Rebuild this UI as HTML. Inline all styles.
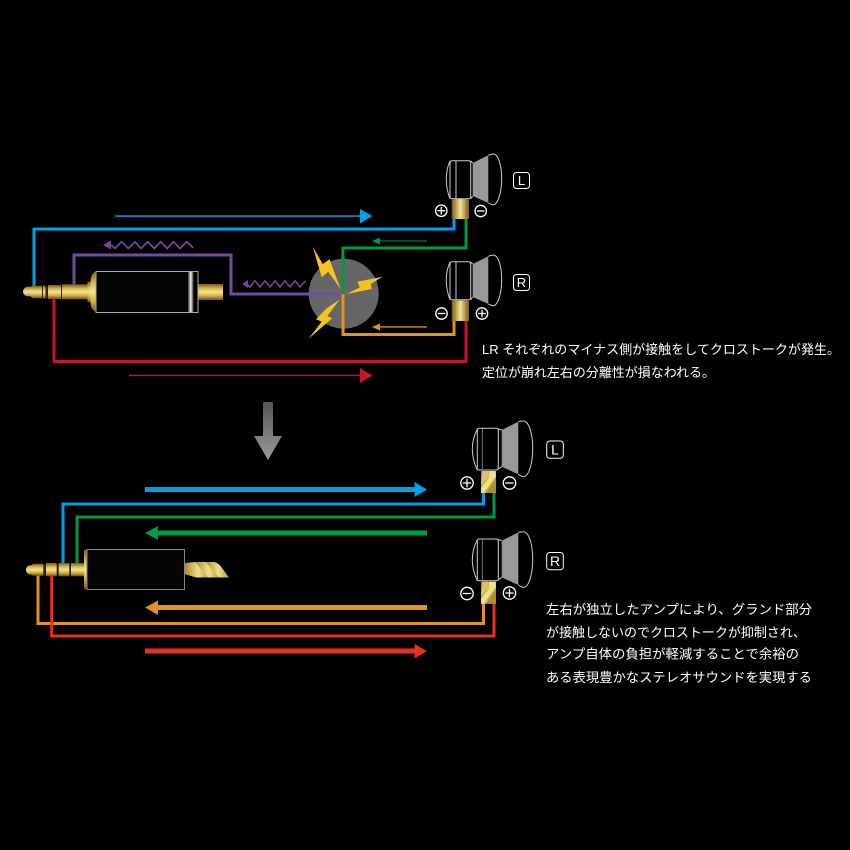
<!DOCTYPE html>
<html><head><meta charset="utf-8"><style>
html,body{margin:0;padding:0;background:#000}
svg{display:block}
text{font-family:"Liberation Sans","Noto Sans CJK JP",sans-serif;fill:#fff;font-size:13px}
</style></head><body>
<svg width="850" height="850" viewBox="0 0 850 850" xmlns="http://www.w3.org/2000/svg">
<defs>
<linearGradient id="g" x1="0" y1="0" x2="0" y2="1"><stop offset="0" stop-color="#7a5a1a"/><stop offset=".28" stop-color="#d5b84f"/><stop offset=".5" stop-color="#f3e58f"/><stop offset=".75" stop-color="#cfae44"/><stop offset="1" stop-color="#6e5016"/></linearGradient>
<linearGradient id="gh" x1="0" y1="0" x2="1" y2="0"><stop offset="0" stop-color="#7a5a18"/><stop offset=".5" stop-color="#f2e48f"/><stop offset="1" stop-color="#7a5a18"/></linearGradient>
<linearGradient id="st" x1="0" y1="0" x2="1" y2="0"><stop offset="0" stop-color="#333"/><stop offset=".5" stop-color="#eee"/><stop offset="1" stop-color="#333"/></linearGradient>
<linearGradient id="ga" x1="0" y1="0" x2="0" y2="1"><stop offset="0" stop-color="#555"/><stop offset="1" stop-color="#9a9a9a"/></linearGradient>
<linearGradient id="tw" x1="0" y1="0" x2="1" y2="0"><stop offset="0" stop-color="#a98a30"/><stop offset=".55" stop-color="#efe08a"/><stop offset="1" stop-color="#b8973a"/></linearGradient>
</defs>
<rect width="850" height="850" fill="#000"/>

<!-- bolts and circle -->
<circle cx="343.700" cy="293.700" r="35" fill="#666"/>
<g fill="#f3c41f">
<path d="M312.700 246.700L322.700 264L329.500 259.300L340.700 289.300L328.300 271.700L321.700 277.300Z"/>
<path d="M357.300 281.700L382.700 276.700L370.700 284L371.700 289L346.700 294L360 287.300Z"/>
<path d="M340 299.300L327.300 316L332.300 318.300L308.300 339L321.700 321.700L316 319.300L326.700 308.300Z"/>
</g>

<!-- TOP wires -->
<g fill="none">
<path d="M34 287V229H454V219" stroke="#00a0e9" stroke-width="3"/>
<path d="M466 219V248H343V294" stroke="#009944" stroke-width="3"/>
<path d="M74 286V255H231V294H343" stroke="#744a9e" stroke-width="3"/>
<path d="M343 294V334.500H454V321" stroke="#e09320" stroke-width="3"/>
<path d="M54 298V361.500H466V321" stroke="#c8162e" stroke-width="3"/>
<polyline points="111,245 115,248.500 121.700,241.700 128.300,248.500 135,241.700 141,248.500 147.700,241.700 154.300,248.500 160.700,241.700 167.300,248.500 173.300,241.700 180,248.500 186.700,241.700 193.300,248" stroke="#744a9e" stroke-width="1.700"/>
<polyline points="247,284 250,287 255,280.700 260,287 265,280.700 270,287 275,280.700 280,287 285,280.700 290,287 295,280.700 300,287 305.600,280.700" stroke="#744a9e" stroke-width="1.500"/>
</g>
<path d="M103 245L111 240.500V249.500Z" fill="#744a9e"/>
<path d="M242 284L248 280V288Z" fill="#744a9e"/>

<!-- top thin arrows -->
<rect x="115" y="215.300" width="246" height="1.500" fill="#00a0e9"/><path d="M360 209L372.500 216L360 223.500Z" fill="#00a0e9"/>
<rect x="129" y="374.800" width="232" height="1.400" fill="#c8162e"/><path d="M360 368L372.500 375.500L360 383Z" fill="#c8162e"/>
<rect x="379" y="240.500" width="48" height="1" fill="#009944"/><path d="M372 241L380 237.500V244.500Z" fill="#009944"/>
<rect x="379" y="326.300" width="48" height="1.300" fill="#e09320"/><path d="M372 327L380 323.500V330.500Z" fill="#e09320"/>

<!-- top jack -->
<rect x="40" y="286" width="24" height="12.500" fill="#33240a"/>
<path d="M27 286.700H30L33 285.700H42V298.300H33L30 296.300H27Q23 295 23 291.500Q23 288 27 286.700Z" fill="url(#g)"/>
<rect x="43" y="285.500" width="2.500" height="13" fill="url(#g)"/>
<rect x="48" y="285" width="13" height="14" fill="url(#g)"/>
<rect x="62" y="284.300" width="26" height="15" fill="url(#g)"/>
<rect x="87.500" y="281.700" width="3.500" height="20.600" fill="url(#g)"/>
<path d="M96 271.700V311.700Q91 311 90.500 302V281.700Q91 272.500 96 271.700Z" fill="url(#g)"/>
<rect x="198" y="284" width="25" height="16" fill="url(#g)"/>
<rect x="96" y="271.500" width="102" height="41" fill="#070504" stroke="#aaa" stroke-width="1"/>
<rect x="188" y="272" width="5.500" height="40" fill="url(#st)"/>

<!-- top earphones -->
<g fill="none" stroke="#ccc" stroke-width="1">
<path d="M472.700 163L488.300 155.300V203L472.700 196Z" fill="#999" stroke="none"/>
<path d="M488.300 155.300Q491 154 493.300 154C498 154 501.700 165 501.700 178.500C501.700 192 498 204.700 493 204.700Q490.500 204.500 488.300 203"/>
<path d="M470.700 161L472.700 163M470.700 198.700L472.700 196"/>
<path d="M452 160.700H468.700Q470.700 160.700 470.700 163V196.500Q470.700 198.700 468.700 198.700H452Q450 198.700 450 196.500V163Q450 160.700 452 160.700Z" fill="#000"/>
<path d="M456 161V198.500"/>
<path d="M450 161Q446 170 446.300 180Q446.500 190 450 198.500"/>
</g>
<rect x="451.700" y="199" width="17.300" height="20" fill="url(#gh)"/>
<g fill="none" stroke="#ccc" stroke-width="1">
<path d="M472.700 264L488.300 256.300V304L472.700 297Z" fill="#999" stroke="none"/>
<path d="M488.300 256.300Q491 255 493.300 255C498 255 501.700 266 501.700 279.500C501.700 293 498 305.700 493 305.700Q490.500 305.500 488.300 304"/>
<path d="M470.700 262L472.700 264M470.700 299.700L472.700 297"/>
<path d="M452 261.700H468.700Q470.700 261.700 470.700 264V297.500Q470.700 299.700 468.700 299.700H452Q450 299.700 450 297.500V264Q450 261.700 452 261.700Z" fill="#000"/>
<path d="M456 262V299.500"/>
<path d="M450 262Q446 271 446.300 281Q446.500 291 450 299.500"/>
</g>
<rect x="451.700" y="300.500" width="17.300" height="20.500" fill="url(#gh)"/>

<!-- signs top -->
<g fill="none" stroke="#fff" stroke-width="1.300">
<circle cx="441.300" cy="210.700" r="5.700"/><path d="M437.500 210.700H445.100M441.300 206.900V214.500"/>
<circle cx="480.700" cy="211" r="5.700"/><path d="M476.900 211H484.500"/>
<circle cx="441.500" cy="313.500" r="5.700"/><path d="M437.700 313.500H445.300"/>
<circle cx="482" cy="313.500" r="5.700"/><path d="M478.200 313.500H485.800M482 309.700V317.300"/>
<rect x="513.500" y="172.500" width="16" height="16" rx="3" stroke-width="1"/>
<rect x="513.500" y="274.500" width="16" height="16" rx="3" stroke-width="1"/>
<rect x="546.700" y="441" width="16.600" height="17.300" rx="3" stroke-width="1"/>
<rect x="546.700" y="552.500" width="16.600" height="17.300" rx="3" stroke-width="1"/>
</g>
<text x="521.500" y="185" text-anchor="middle" style="font-size:13px">L</text>
<text x="521.500" y="287" text-anchor="middle" style="font-size:13px">R</text>
<text x="555" y="454.500" text-anchor="middle" style="font-size:14px">L</text>
<text x="555" y="566" text-anchor="middle" style="font-size:14px">R</text>

<text x="482" y="354" textLength="358" lengthAdjust="spacingAndGlyphs">LR それぞれのマイナス側が接触をしてクロストークが発生。</text>
<text x="482" y="377" textLength="233" lengthAdjust="spacingAndGlyphs">定位が崩れ左右の分離性が損なわれる。</text>

<!-- gray arrow -->
<path d="M263 402H273V436H282L268 460L254 436H263Z" fill="url(#ga)"/>

<!-- bottom wires -->
<g fill="none">
<path d="M63 563V504H483.500V492" stroke="#00a0e9" stroke-width="3"/>
<path d="M77 563V517H494V492" stroke="#009944" stroke-width="3"/>
<path d="M38 575V623.500H483.500V603" stroke="#e09320" stroke-width="3"/>
<path d="M51.700 576V636H494V603" stroke="#e83020" stroke-width="3"/>
</g>
<rect x="145" y="487" width="271" height="5" fill="#00a0e9"/><path d="M414.500 482L427 489.500L414.500 497Z" fill="#00a0e9"/>
<rect x="157" y="530.500" width="270" height="5" fill="#009944"/><path d="M145 533L158 526V540Z" fill="#009944"/>
<rect x="157" y="605" width="270" height="5" fill="#e09320"/><path d="M145 607.500L158 600.500V615Z" fill="#e09320"/>
<rect x="145" y="648.500" width="271" height="5" fill="#e83020"/><path d="M414.500 644L427 651L414.500 658.500Z" fill="#e83020"/>

<!-- bottom jack -->
<rect x="43" y="564" width="30" height="11.500" fill="#2a1d08"/>
<path d="M29 565.300H31L33 563.700H43.300V575.700H33L31 574.500H29Q26 573 26 570Q26 567 29 565.300Z" fill="url(#g)"/>
<rect x="46" y="563" width="10.700" height="13.300" fill="url(#g)"/>
<rect x="58.700" y="563" width="10.600" height="13.300" fill="url(#g)"/>
<rect x="71" y="563" width="13" height="13.300" fill="url(#g)"/>
<rect x="84" y="549.700" width="3" height="39.500" fill="url(#g)"/>
<rect x="87" y="549.500" width="97.500" height="40" fill="#070504" stroke="#888" stroke-width="1"/>
<g fill="url(#tw)">
<path d="M185 563L196 562L209 577.500L197 577.500Q190 576 185 574Z"/>
<path d="M195 562L206 562L220 577.500L208 577.500Z"/>
<path d="M205.500 562H214Q219 563 222 568L229 577.500H219Z"/>
</g>

<!-- bottom earphones -->
<g fill="none" stroke="#ccc" stroke-width="1">
<path d="M501.700 430L518.300 421.700V474.300L501.700 466.700Z" fill="#999" stroke="none"/>
<path d="M518.300 421.700Q521 421 523.300 421C529 421 532.700 434 532.700 448.500C532.700 463 529 476.700 523.300 476.700Q520.500 476 518.300 474.300"/>
<path d="M498.300 429L501.700 430M498.300 469L501.700 466.700"/>
<path d="M479 428.300H496.300Q498.300 428.300 498.300 430.500V468Q498.300 470 496.300 470H479Q477.300 470 477.300 468V430.500Q477.300 428.300 479 428.300Z" fill="#000"/>
<path d="M482.300 428.500V470" stroke="#777"/>
<path d="M477.300 429Q472.200 439 472.300 449.500Q472.500 460 477.300 470"/>
</g>
<g fill="none" stroke="#ccc" stroke-width="1">
<path d="M501.700 540.700L518.300 532.400V585L501.700 577.400Z" fill="#999" stroke="none"/>
<path d="M518.300 532.400Q521 531.700 523.300 531.700C529 531.700 532.700 544.700 532.700 559.200C532.700 573.700 529 587.400 523.300 587.400Q520.500 586.700 518.300 585"/>
<path d="M498.300 539.700L501.700 540.700M498.300 579.700L501.700 577.400"/>
<path d="M479 539H496.300Q498.300 539 498.300 541.200V578.700Q498.300 580.700 496.300 580.700H479Q477.300 580.700 477.300 578.700V541.200Q477.300 539 479 539Z" fill="#000"/>
<path d="M482.300 539.200V580.700" stroke="#777"/>
<path d="M477.300 539.700Q472.200 549.700 472.300 560.200Q472.500 570.700 477.300 580.700"/>
</g>
<!-- twisted connectors -->
<g id="twa">
<path d="M481.500 471H496L496 493H481Z" fill="#c9ad4c"/>
<path d="M481.500 471H488L489 477L481 485Z" fill="#d9c46a"/>
<path d="M489 471H495.500L496 476L486 490L484 493H481V488L489 478Z" fill="#efe08a"/>
<path d="M496 478V493H486L488 490Z" fill="#ad8e33"/>
</g>
<g transform="translate(0 110.700)">
<path d="M481.500 471H496L496 493H481Z" fill="#c9ad4c"/>
<path d="M481.500 471H488L489 477L481 485Z" fill="#d9c46a"/>
<path d="M489 471H495.500L496 476L486 490L484 493H481V488L489 478Z" fill="#efe08a"/>
<path d="M496 478V493H486L488 490Z" fill="#ad8e33"/>
</g>
<!-- signs bottom -->
<g fill="none" stroke="#fff" stroke-width="1.300">
<circle cx="467" cy="483" r="6.200"/><path d="M462.800 483H471.200M467 478.800V487.200"/>
<circle cx="509.500" cy="483" r="6.200"/><path d="M505.300 483H513.700"/>
<circle cx="467" cy="593.500" r="6.200"/><path d="M462.800 593.500H471.200"/>
<circle cx="509.500" cy="593" r="6.200"/><path d="M505.300 593H513.700M509.500 588.800V597.200"/>
</g>

<text x="546" y="614" textLength="266" lengthAdjust="spacingAndGlyphs">左右が独立したアンプにより、グランド部分</text>
<text x="546" y="637" textLength="260" lengthAdjust="spacingAndGlyphs">が接触しないのでクロストークが抑制され、</text>
<text x="546" y="658.500" textLength="253" lengthAdjust="spacingAndGlyphs">アンプ自体の負担が軽減することで余裕の</text>
<text x="546" y="682" textLength="266" lengthAdjust="spacingAndGlyphs">ある表現豊かなステレオサウンドを実現する</text>
</svg>
</body></html>
